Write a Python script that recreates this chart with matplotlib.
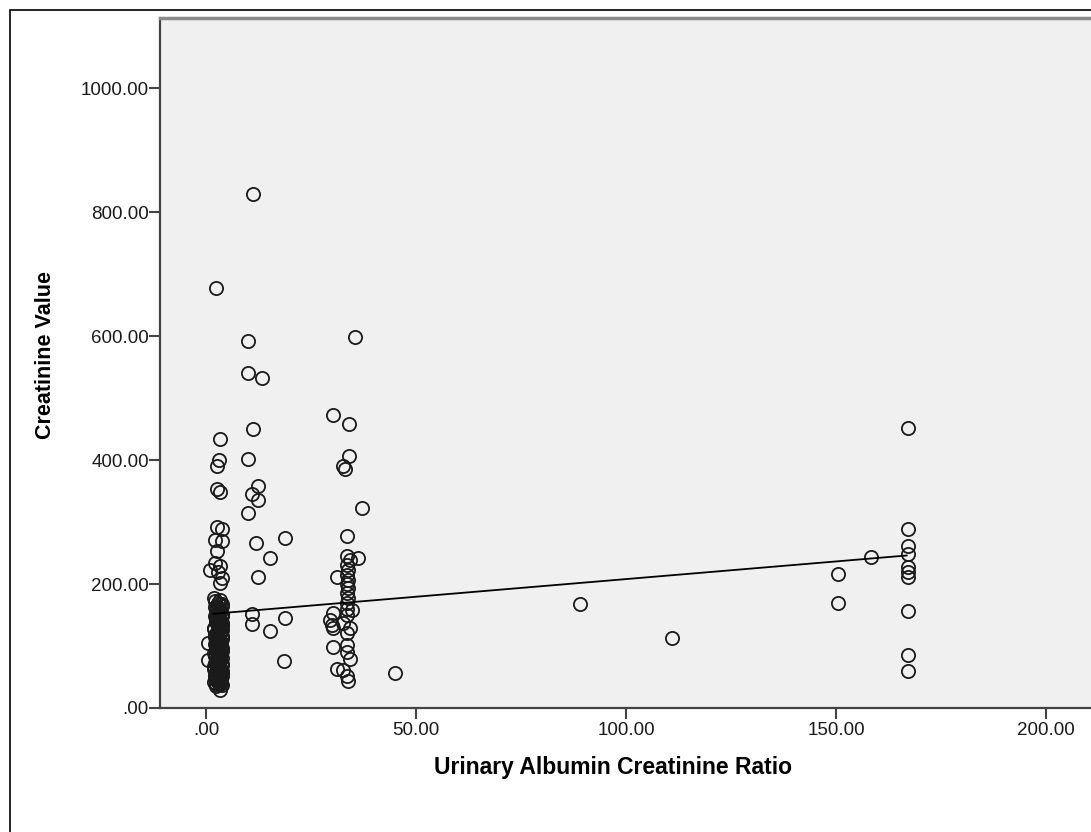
import matplotlib.pyplot as plt
from matplotlib.ticker import FuncFormatter
from matplotlib.patches import Rectangle

plt.rcParams['font.family'] = ['Liberation Sans', 'DejaVu Sans']

# --- datos ---
# columna densa cerca de 0-4
ucr_a = [2.4, 3.3, 3.1, 2.6, 2.6, 3.3, 2.6, 3.8, 2.2, 3.8, 2.6, 2.2, 3.3, 1.0, 2.9, 3.8, 3.3,
         0.5, 0.5, 3.3,
         2.0, 3.4, 2.8, 3.9, 2.2, 3.0, 3.6, 2.5, 3.8, 2.1, 3.2, 2.7, 3.5, 2.3, 3.9, 2.9,
         3.1, 2.0, 3.7, 2.6, 3.3, 2.2, 3.8, 2.8, 3.0, 2.4, 3.6, 2.1, 3.4, 2.7, 3.9, 2.3,
         3.2, 2.0, 3.5, 2.9, 3.7, 2.5, 3.1, 2.2, 3.8, 2.6, 3.3, 2.0, 3.6, 2.8, 3.0, 2.4,
         3.9, 2.1, 3.4, 2.7, 3.2, 2.3, 3.7, 2.9, 3.5, 2.5, 3.1, 2.2, 3.8, 2.6, 3.0, 3.3,
         2.1, 3.7, 2.4, 3.9, 2.8, 3.2, 2.0, 3.5, 2.6, 3.8, 2.3, 3.1, 2.9, 3.6, 2.2, 3.4,
         2.7, 3.0, 2.5, 3.8, 2.1, 3.3, 2.8, 3.6, 2.4, 3.9, 2.0, 3.2, 2.6, 3.5, 2.9, 3.7,
         2.3, 3.0, 2.7, 3.4, 2.2, 3.8, 2.5, 3.1, 2.9, 3.6, 2.0, 3.3, 2.6, 3.9, 2.4, 3.5]
creat_a = [677, 434, 400, 390, 353, 348, 292, 289, 271, 269, 253, 234, 229, 223, 219, 210, 202,
           105, 77, 29,
           178, 174, 170, 167, 163, 161, 157, 154, 151, 148, 146, 143, 141, 138, 136, 133,
           131, 128, 126, 123, 121, 118, 116, 113, 111, 108, 106, 103, 101, 98, 96, 93,
           91, 88, 86, 83, 81, 78, 76, 73, 71, 68, 66, 63, 61, 58, 56, 53,
           51, 48, 46, 43, 41, 39, 37, 60, 95, 120, 140, 85, 70, 110, 50, 45,
           172, 165, 159, 149, 144, 135, 129, 124, 117, 112, 104, 99, 94, 89, 84, 79,
           74, 69, 64, 59, 54, 49, 44, 40, 36, 57, 67, 87, 97, 107, 127, 137,
           147, 155, 162, 168, 115, 92, 82, 72, 62, 52, 42, 38, 102, 132, 142, 47]

# columna 10-20
ucr_b = [11.2, 10.0, 10.0, 13.3, 11.2, 10.0, 12.4, 11.0, 12.4, 10.0, 12.0, 18.8, 15.2,
         12.4, 11.0, 11.0, 18.8, 15.2, 18.6]
creat_b = [829, 592, 540, 532, 450, 402, 358, 345, 335, 315, 266, 274, 242,
           211, 152, 135, 145, 124, 76]

# columna 30-37
ucr_c = [35.5, 30.2, 34.0, 34.0, 32.6, 33.1, 37.1, 33.5, 33.5, 36.2, 34.3, 31.2,
         33.5, 33.8, 33.5, 33.7, 33.5, 33.8, 33.5, 33.7, 33.5, 33.5, 34.8,
         30.2, 29.6, 30.0, 30.2, 33.5, 32.6, 34.2, 33.5,
         30.2, 33.5, 33.5, 34.2, 31.2, 32.6, 33.5, 33.8, 45.0]
creat_c = [598, 472, 458, 406, 390, 385, 323, 277, 245, 242, 239, 211,
           230, 222, 215, 207, 200, 193, 185, 178, 169, 160, 158,
           153, 142, 134, 129, 150, 137, 129, 121,
           98, 102, 90, 79, 63, 61, 52, 44, 56]

# valores altos de UACR
ucr_d = [89.0, 111.0, 150.5, 150.5, 158.3, 167.0, 167.0, 167.0, 167.0, 167.0, 167.0, 167.0,
         167.0, 167.0, 167.0]
creat_d = [168, 113, 216, 169, 244, 452, 289, 261, 248, 227, 219, 211, 156, 85, 60]

# linea de ajuste (extremos)
fit_x = [1.8, 166.8]
fit_y = [152, 246]

ucr = ucr_a + ucr_b + ucr_c + ucr_d
creat = creat_a + creat_b + creat_c + creat_d

fig = plt.figure(figsize=(10.91, 8.32), dpi=100)
# marco exterior
fig.patches.append(Rectangle((10 / 1091, -0.1), 1.2, (822 / 832) + 0.1,
                             transform=fig.transFigure, fill=False,
                             edgecolor='black', linewidth=1.2))
ax = fig.add_axes([160 / 1091, 124 / 832, 950 / 1091, 690 / 832])
ax.set_facecolor('#f0f0f0')

ax.plot(ucr, creat, 'o', markersize=9.5, markerfacecolor='none',
        markeredgecolor='#1a1a1a', markeredgewidth=1.3)
ax.plot(fit_x, fit_y, color='black', linewidth=1.3)

ax.set_xlim(-10.95, 215.2)
ax.set_ylim(0, 1113)
ax.set_xticks([0, 50, 100, 150, 200])
ax.set_yticks([0, 200, 400, 600, 800, 1000])

fmt = FuncFormatter(lambda v, p: f"{v:.2f}".lstrip('0') if abs(v) < 1 else f"{v:.2f}")
ax.xaxis.set_major_formatter(fmt)
ax.yaxis.set_major_formatter(fmt)

for s in ['left', 'bottom']:
    ax.spines[s].set_color('#444444')
    ax.spines[s].set_linewidth(1.6)
ax.spines['top'].set_color('#8a8a8a')
ax.spines['top'].set_linewidth(2.5)
ax.spines['right'].set_visible(False)

ax.tick_params(direction='out', length=8, width=1.5, color='#444444',
               labelsize=13.5, labelcolor='#1a1a1a')
ax.tick_params(axis='x', pad=2)
ax.tick_params(axis='y', pad=0)

ax.set_xlabel('Urinary Albumin Creatinine Ratio', fontsize=16.5, fontweight='bold')
ax.set_ylabel('Creatinine Value', fontsize=15.5, fontweight='bold')
ax.xaxis.set_label_coords((613 - 160) / 950, -48 / 690)
ax.yaxis.set_label_coords(-104 / 950, (708 - 355) / 690)

fig.savefig('out.png', dpi=100)
